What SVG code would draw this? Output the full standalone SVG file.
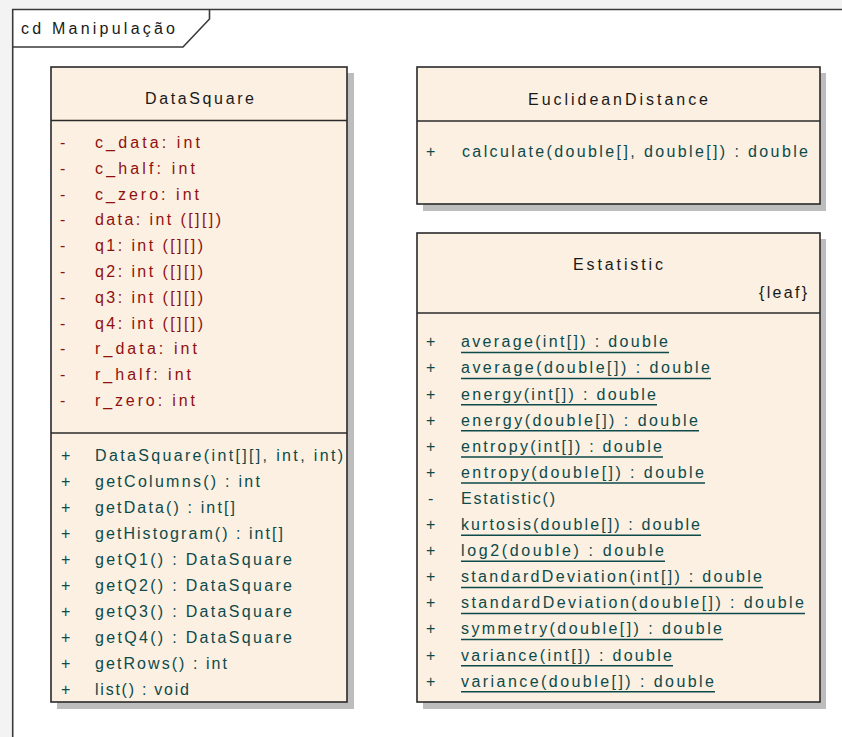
<svg xmlns="http://www.w3.org/2000/svg" width="842" height="737" viewBox="0 0 842 737">
<style>
text{font-family:"Liberation Sans",Arial,sans-serif;font-size:16px}
.t{fill:#1a1a1a}
.a{fill:#8f1010}
.o{fill:#0d4a4a}
.box{fill:#fbf0e2;stroke:#2a2a2a;stroke-width:1.6}
.sh{fill:#bdbdbd}
.div{stroke:#2a2a2a;stroke-width:1.6}
.ul{stroke:#0d4a4a;stroke-width:1.5}
.fr{fill:none;stroke:#3a3a3a;stroke-width:1.6}
</style>
<rect width="842" height="737" fill="#f3f3f3"/>
<rect x="13" y="9" width="829" height="728" fill="#ffffff"/>
<g id="frame">
<path class="fr" d="M842 9.5H12.7V737"/>
<path class="fr" d="M12.7 47H183L209.5 19V9.5"/>
<text class="t" x="21" y="34" textLength="154" lengthAdjust="spacing">cd Manipulação</text>
</g>
<g id="DataSquare">
<rect class="sh" x="57" y="73" width="297" height="636"/>
<rect class="box" x="51" y="67" width="296" height="635"/>
<line class="div" x1="51" y1="120.5" x2="347" y2="120.5"/>
<line class="div" x1="51" y1="433" x2="347" y2="433"/>
<text class="t" x="145" y="104" textLength="109" lengthAdjust="spacing">DataSquare</text>
<g class="a" xml:space="preserve">
<text x="60" y="148">-</text><text x="95" y="148" textLength="105" lengthAdjust="spacing">c_data:  int</text>
<text x="60" y="174">-</text><text x="95" y="174" textLength="100" lengthAdjust="spacing">c_half:  int</text>
<text x="60" y="200">-</text><text x="95" y="200" textLength="104" lengthAdjust="spacing">c_zero:  int</text>
<text x="60" y="225">-</text><text x="95" y="225" textLength="126" lengthAdjust="spacing">data:  int ([][])</text>
<text x="60" y="251">-</text><text x="95" y="251" textLength="108" lengthAdjust="spacing">q1:  int ([][])</text>
<text x="60" y="277">-</text><text x="95" y="277" textLength="108" lengthAdjust="spacing">q2:  int ([][])</text>
<text x="60" y="303">-</text><text x="95" y="303" textLength="108" lengthAdjust="spacing">q3:  int ([][])</text>
<text x="60" y="329">-</text><text x="95" y="329" textLength="108" lengthAdjust="spacing">q4:  int ([][])</text>
<text x="60" y="354">-</text><text x="95" y="354" textLength="102" lengthAdjust="spacing">r_data:  int</text>
<text x="60" y="380">-</text><text x="95" y="380" textLength="96" lengthAdjust="spacing">r_half:  int</text>
<text x="60" y="406">-</text><text x="95" y="406" textLength="100" lengthAdjust="spacing">r_zero:  int</text>
</g>
<g class="o">
<text x="61" y="460.5">+</text><text x="95" y="460.5" textLength="248" lengthAdjust="spacing">DataSquare(int[][], int, int)</text>
<text x="61" y="486.5">+</text><text x="95" y="486.5" textLength="165" lengthAdjust="spacing">getColumns() : int</text>
<text x="61" y="512.5">+</text><text x="95" y="512.5" textLength="140" lengthAdjust="spacing">getData() : int[]</text>
<text x="61" y="538.5">+</text><text x="95" y="538.5" textLength="188" lengthAdjust="spacing">getHistogram() : int[]</text>
<text x="61" y="564.5">+</text><text x="95" y="564.5" textLength="197" lengthAdjust="spacing">getQ1() : DataSquare</text>
<text x="61" y="590.5">+</text><text x="95" y="590.5" textLength="197" lengthAdjust="spacing">getQ2() : DataSquare</text>
<text x="61" y="616.5">+</text><text x="95" y="616.5" textLength="197" lengthAdjust="spacing">getQ3() : DataSquare</text>
<text x="61" y="642.5">+</text><text x="95" y="642.5" textLength="197" lengthAdjust="spacing">getQ4() : DataSquare</text>
<text x="61" y="668.5">+</text><text x="95" y="668.5" textLength="132" lengthAdjust="spacing">getRows() : int</text>
<text x="61" y="694.5">+</text><text x="95" y="694.5" textLength="94" lengthAdjust="spacing">list() : void</text>
</g>
</g>
<g id="EuclideanDistance">
<rect class="sh" x="423" y="73" width="403" height="138"/>
<rect class="box" x="417" y="67" width="403" height="137"/>
<line class="div" x1="417" y1="121" x2="820" y2="121"/>
<text class="t" x="528" y="105" textLength="180" lengthAdjust="spacing">EuclideanDistance</text>
<text class="o" x="426" y="157">+</text>
<text class="o" x="462" y="157" textLength="346" lengthAdjust="spacing">calculate(double[], double[]) : double</text>
</g>
<g id="Estatistic">
<rect class="sh" x="423" y="239" width="403" height="470"/>
<rect class="box" x="417" y="233" width="403" height="469"/>
<line class="div" x1="417" y1="313" x2="820" y2="313"/>
<text class="t" x="573" y="270" textLength="90" lengthAdjust="spacing">Estatistic</text>
<text class="t" x="759" y="298" textLength="48" lengthAdjust="spacing">{leaf}</text>
<g class="o">
<text x="426" y="347.3">+</text><text x="461" y="347.3" textLength="207" lengthAdjust="spacing">average(int[]) : double</text>
<text x="426" y="373.4">+</text><text x="461" y="373.4" textLength="249" lengthAdjust="spacing">average(double[]) : double</text>
<text x="426" y="399.5">+</text><text x="461" y="399.5" textLength="195" lengthAdjust="spacing">energy(int[]) : double</text>
<text x="426" y="425.6">+</text><text x="461" y="425.6" textLength="237" lengthAdjust="spacing">energy(double[]) : double</text>
<text x="426" y="451.7">+</text><text x="461" y="451.7" textLength="201" lengthAdjust="spacing">entropy(int[]) : double</text>
<text x="426" y="477.8">+</text><text x="461" y="477.8" textLength="243" lengthAdjust="spacing">entropy(double[]) : double</text>
<text x="428" y="503.9">-</text><text x="461" y="503.9" textLength="94" lengthAdjust="spacing">Estatistic()</text>
<text x="426" y="530">+</text><text x="461" y="530" textLength="239" lengthAdjust="spacing">kurtosis(double[]) : double</text>
<text x="426" y="556.1">+</text><text x="461" y="556.1" textLength="203" lengthAdjust="spacing">log2(double) : double</text>
<text x="426" y="582.2">+</text><text x="461" y="582.2" textLength="301" lengthAdjust="spacing">standardDeviation(int[]) : double</text>
<text x="426" y="608.3">+</text><text x="461" y="608.3" textLength="343" lengthAdjust="spacing">standardDeviation(double[]) : double</text>
<text x="426" y="634.4">+</text><text x="461" y="634.4" textLength="261" lengthAdjust="spacing">symmetry(double[]) : double</text>
<text x="426" y="660.5">+</text><text x="461" y="660.5" textLength="211" lengthAdjust="spacing">variance(int[]) : double</text>
<text x="426" y="686.6">+</text><text x="461" y="686.6" textLength="253" lengthAdjust="spacing">variance(double[]) : double</text>
</g>
<g class="ul">
<line x1="461" y1="352.5" x2="669" y2="352.5"/>
<line x1="461" y1="378.6" x2="711" y2="378.6"/>
<line x1="461" y1="404.7" x2="657" y2="404.7"/>
<line x1="461" y1="430.8" x2="699" y2="430.8"/>
<line x1="461" y1="456.9" x2="663" y2="456.9"/>
<line x1="461" y1="483" x2="705" y2="483"/>
<line x1="461" y1="535.2" x2="701" y2="535.2"/>
<line x1="461" y1="561.3" x2="665" y2="561.3"/>
<line x1="461" y1="587.4" x2="763" y2="587.4"/>
<line x1="461" y1="613.5" x2="805" y2="613.5"/>
<line x1="461" y1="639.6" x2="723" y2="639.6"/>
<line x1="461" y1="665.7" x2="673" y2="665.7"/>
<line x1="461" y1="691.8" x2="715" y2="691.8"/>
</g>
</g>
<g id="connectors"/>
</svg>
